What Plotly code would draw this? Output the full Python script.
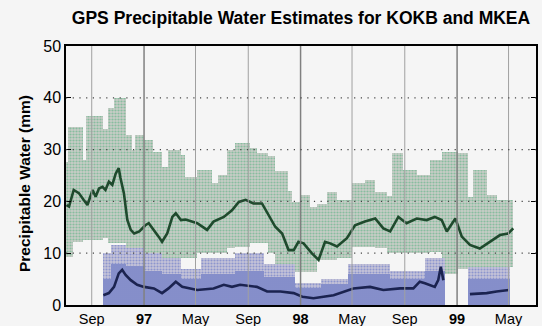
import plotly.graph_objects as go
import pandas as pd

# ---------------- data ----------------
# KOKB (sea level) envelope blocks: period edges, top and bottom (mm)
kokb_edges = ['1996-07-03', '1996-07-08', '1996-07-20', '1996-08-11', '1996-08-18', '1996-09-27',
              '1996-10-08', '1996-10-22', '1996-11-19', '1996-12-05', '1996-12-12', '1996-12-31',
              '1997-01-21', '1997-02-13', '1997-02-27', '1997-03-27', '1997-04-07', '1997-05-05',
              '1997-06-09', '1997-06-23', '1997-07-14', '1997-08-01', '1997-09-05', '1997-09-21',
              '1997-10-17', '1997-11-02', '1997-12-03', '1997-12-12', '1997-12-31', '1998-01-24',
              '1998-02-09', '1998-03-04', '1998-03-28', '1998-05-02', '1998-06-01', '1998-06-24',
              '1998-07-22', '1998-08-03', '1998-08-28', '1998-09-30', '1998-10-30', '1998-11-27',
              '1999-01-03', '1999-01-27', '1999-02-07', '1999-03-12', '1999-04-04', '1999-05-11']
kokb_top = [27.7, 34.4, 34.4, 28.0, 36.5, 34.0, 38.0, 39.9, 32.8, 30.0, 32.8, 31.9,
            29.6, 26.7, 29.9, 29.0, 24.8, 26.1, 23.5, 25.1, 29.9, 31.2, 30.4, 29.3,
            28.7, 25.9, 22.0, 19.9, 21.2, 19.0, 19.5, 21.9, 20.3, 23.5, 24.1, 21.9,
            21.0, 29.3, 26.1, 25.1, 28.0, 29.6, 29.3, 20.9, 26.1, 21.2, 20.3]
kokb_bot = [9.3, 9.3, 12.2, 12.5, 12.5, 12.9, 12.0, 12.0, 11.0, 11.0, 11.0, 10.0,
            10.0, 9.0, 9.0, 9.0, 9.0, 10.0, 10.0, 10.0, 11.0, 11.2, 12.0, 12.0,
            10.0, 8.0, 7.0, 6.4, 6.4, 6.4, 8.7, 8.7, 9.0, 11.2, 11.2, 11.0,
            10.0, 10.0, 10.0, 10.0, 10.2, 6.0, 7.0, 7.3, 7.3, 7.3, 7.3]

# KOKB running mean
kokb_dates = ['1996-07-04', '1996-07-10', '1996-07-21', '1996-08-02', '1996-08-13', '1996-08-22',
              '1996-09-03', '1996-09-10', '1996-09-18', '1996-09-26', '1996-10-03', '1996-10-11',
              '1996-10-19', '1996-10-27', '1996-11-03', '1996-11-07', '1996-11-15', '1996-11-23',
              '1996-12-01', '1996-12-09', '1996-12-21', '1996-12-28', '1997-01-04', '1997-01-12',
              '1997-01-24', '1997-02-04', '1997-02-12', '1997-02-24', '1997-03-08', '1997-03-16',
              '1997-03-28', '1997-04-08', '1997-05-05', '1997-05-28', '1997-06-12', '1997-07-06',
              '1997-07-25', '1997-08-10', '1997-08-26', '1997-09-13', '1997-10-03', '1997-10-18',
              '1997-11-03', '1997-11-19', '1997-12-04', '1997-12-16', '1997-12-27', '1998-01-08',
              '1998-01-27', '1998-02-12', '1998-02-27', '1998-03-11', '1998-03-27', '1998-04-19',
              '1998-05-08', '1998-05-31', '1998-06-12', '1998-06-24', '1998-07-13', '1998-07-29',
              '1998-08-17', '1998-09-05', '1998-09-29', '1998-10-22', '1998-11-10', '1998-11-26',
              '1998-12-08', '1998-12-28', '1999-01-12', '1999-01-31', '1999-02-23', '1999-03-18',
              '1999-04-11', '1999-04-30', '1999-05-12']
kokb_mean = [19.3, 19.0, 22.2, 21.6, 20.3, 19.3, 22.2, 20.9, 22.5, 22.8, 22.2, 23.8,
             23.2, 25.4, 26.4, 24.5, 21.6, 16.4, 14.5, 13.8, 14.2, 14.8, 15.4, 15.8,
             14.5, 13.2, 12.2, 13.8, 17.0, 17.7, 16.4, 16.5, 15.8, 14.5, 16.1, 17.0,
             18.3, 19.9, 20.3, 19.6, 19.6, 17.5, 15.1, 13.8, 10.6, 10.6, 12.2, 11.9,
             10.0, 8.7, 12.2, 11.9, 11.3, 12.9, 15.4, 16.1, 16.4, 16.7, 14.8, 14.2,
             17.0, 15.8, 16.7, 16.4, 17.0, 16.4, 14.2, 16.7, 13.2, 11.6, 10.9, 12.2,
             13.5, 13.8, 14.8]

# MKEA (summit) envelope blocks: outer envelope top and dense-core top (mm)
mkea_start = ['1996-09-27', '1996-10-15', '1996-11-19', '1996-12-31', '1997-02-13', '1997-03-27',
              '1997-05-14', '1997-08-01', '1997-10-08', '1997-12-20', '1998-02-17', '1998-04-22',
              '1998-07-29', '1998-10-17', '1999-01-27']
mkea_end = ['1996-10-15', '1996-11-19', '1996-12-31', '1997-02-13', '1997-03-27', '1997-05-14',
            '1997-08-01', '1997-10-08', '1997-12-20', '1998-02-17', '1998-04-22', '1998-07-29',
            '1998-10-17', '1998-12-03', '1999-05-05']
mkea_top = [10.0, 11.6, 11.0, 10.0, 9.0, 7.0, 9.0, 10.0, 8.0, 4.2, 5.0, 8.0, 6.5, 9.0, 7.3]
mkea_core = [5.0, 8.0, 7.5, 6.5, 6.0, 5.0, 6.0, 6.5, 5.5, 3.2, 4.0, 6.0, 5.0, 6.5, 5.0]

# MKEA running mean (None = data gap)
mkea_dates = ['1996-09-28', '1996-10-11', '1996-10-23', '1996-11-03', '1996-11-11', '1996-11-19',
              '1996-12-01', '1996-12-16', '1997-01-01', '1997-01-24', '1997-02-12', '1997-02-27',
              '1997-03-16', '1997-03-31', '1997-05-05', '1997-06-12', '1997-07-06', '1997-07-25',
              '1997-08-13', '1997-09-21', '1997-10-15', '1997-11-15', '1997-12-16', '1998-01-05',
              '1998-01-31', '1998-03-19', '1998-05-04', '1998-06-12', '1998-07-13', '1998-08-21',
              '1998-09-21', '1998-10-06', '1998-10-18', '1998-10-30', '1998-11-10', '1998-11-18',
              '1998-11-24', '1998-11-30', '1998-12-31', '1999-01-31', '1999-03-11', '1999-04-03',
              '1999-05-02']
mkea_mean = [1.9, 2.3, 3.5, 6.1, 6.8, 5.8, 4.8, 3.9, 3.5, 3.2, 2.3, 3.2,
             4.5, 3.5, 2.9, 3.2, 3.9, 3.5, 3.9, 3.5, 2.6, 2.6, 2.3, 1.6,
             1.3, 1.9, 3.2, 3.5, 2.9, 3.2, 3.2, 4.5, 4.2, 3.9, 3.5, 4.8,
             7.4, 4.8, None, 2.1, 2.3, 2.6, 2.9]

# axis ticks
tick_dates = ['1996-09-01', '1997-01-01', '1997-05-01', '1997-09-01', '1998-01-01',
              '1998-05-01', '1998-09-01', '1999-01-01', '1999-05-01']
tick_text = ['Sep', '<b>97</b>', 'May', 'Sep', '<b>98</b>', 'May', 'Sep', '<b>99</b>', 'May']
y_ticks = [0, 10, 20, 30, 40, 50]
x_range = ['1996-07-03', '1999-07-04']

# ---------------- build figure ----------------
FONT = 'Liberation Sans, Arial, Helvetica, sans-serif'
BG = '#f5f5f5'
GRAY = '#c9ccc7'
LAV = '#c5c4d8'


def blocks(starts, ends):
    s = pd.to_datetime(pd.Series(starts))
    e = pd.to_datetime(pd.Series(ends))
    mid = s + (e - s) / 2
    width = (e - s).dt.total_seconds() * 1000.0
    return mid, width


fig = go.Figure()

k_mid, k_w = blocks(kokb_edges[:-1], kokb_edges[1:])
fig.add_trace(go.Bar(
    x=k_mid, y=[t - b for t, b in zip(kokb_top, kokb_bot)], base=kokb_bot, width=k_w,
    marker=dict(color=GRAY, line_width=0,
                pattern=dict(shape='.', fgcolor='#45ad77', bgcolor=GRAY,
                             size=3, solidity=0.42)),
    showlegend=False, hoverinfo='skip'))

m_mid, m_w = blocks(mkea_start, mkea_end)
fig.add_trace(go.Bar(
    x=m_mid, y=mkea_top, base=[0] * len(mkea_top), width=m_w,
    marker=dict(color=LAV, line_width=0,
                pattern=dict(shape='.', fgcolor='#5366c4', bgcolor=LAV,
                             size=3, solidity=0.4)),
    showlegend=False, hoverinfo='skip'))
fig.add_trace(go.Bar(
    x=m_mid, y=mkea_core, base=[0] * len(mkea_core), width=m_w,
    marker=dict(color='#9aa0d2', line_width=0,
                pattern=dict(shape='.', fgcolor='#4a5cc0', bgcolor='#a9acd0',
                             size=2, solidity=0.75)),
    showlegend=False, hoverinfo='skip'))

fig.add_trace(go.Scatter(x=kokb_dates, y=kokb_mean, mode='lines',
                         line=dict(color='#1f4a2d', width=2.6), showlegend=False))
fig.add_trace(go.Scatter(x=mkea_dates, y=mkea_mean, mode='lines', connectgaps=False,
                         line=dict(color='#1b2350', width=2.6), showlegend=False))

shapes = []
for d, t in zip(tick_dates, tick_text):
    year = t.startswith('<b>')
    shapes.append(dict(type='line', xref='x', yref='paper', x0=d, x1=d, y0=0, y1=1,
                       layer='above',
                       line=dict(color='#808080' if year else '#a0a0a0', width=1.5 if year else 1)))
for v in y_ticks[1:-1]:
    shapes.append(dict(type='line', xref='paper', yref='y', x0=0, x1=1, y0=v, y1=v,
                       layer='above', line=dict(color='#444444', width=1.2, dash='1.2px,5.5px')))

fig.update_layout(
    width=542, height=326,
    margin=dict(l=66, r=6, t=46, b=21),
    paper_bgcolor=BG, plot_bgcolor=BG,
    barmode='overlay', bargap=0,
    font=dict(family=FONT, color='black'),
    title=dict(text='<b>GPS Precipitable Water Estimates for KOKB and MKEA</b>',
               x=0.5, xref='paper', xanchor='center', y=1 - 18 / 326, yanchor='middle',
               font=dict(size=17.5, family=FONT, color='black')),
    shapes=shapes,
    annotations=[dict(text='<b>Precipitable Water (mm)</b>', textangle=-90,
                      xref='paper', yref='paper', x=(24 - 66) / 470, y=(305 - 184) / 259,
                      xanchor='center', yanchor='middle', showarrow=False,
                      font=dict(size=15.5, family=FONT, color='black'))],
    xaxis=dict(type='date', range=x_range, tickvals=tick_dates, ticktext=tick_text,
               showgrid=False, zeroline=False, ticks='', showline=True, linecolor='black',
               linewidth=1.5, mirror=True, tickfont=dict(size=14.5), automargin=False),
    yaxis=dict(range=[0, 50], tickvals=y_ticks, showgrid=False, zeroline=False,
               ticks='inside', ticklen=5, tickcolor='black', showline=True,
               linecolor='black', linewidth=1.5, mirror='ticks',
               tickfont=dict(size=16), automargin=False),
)

fig.write_html('out.html')
